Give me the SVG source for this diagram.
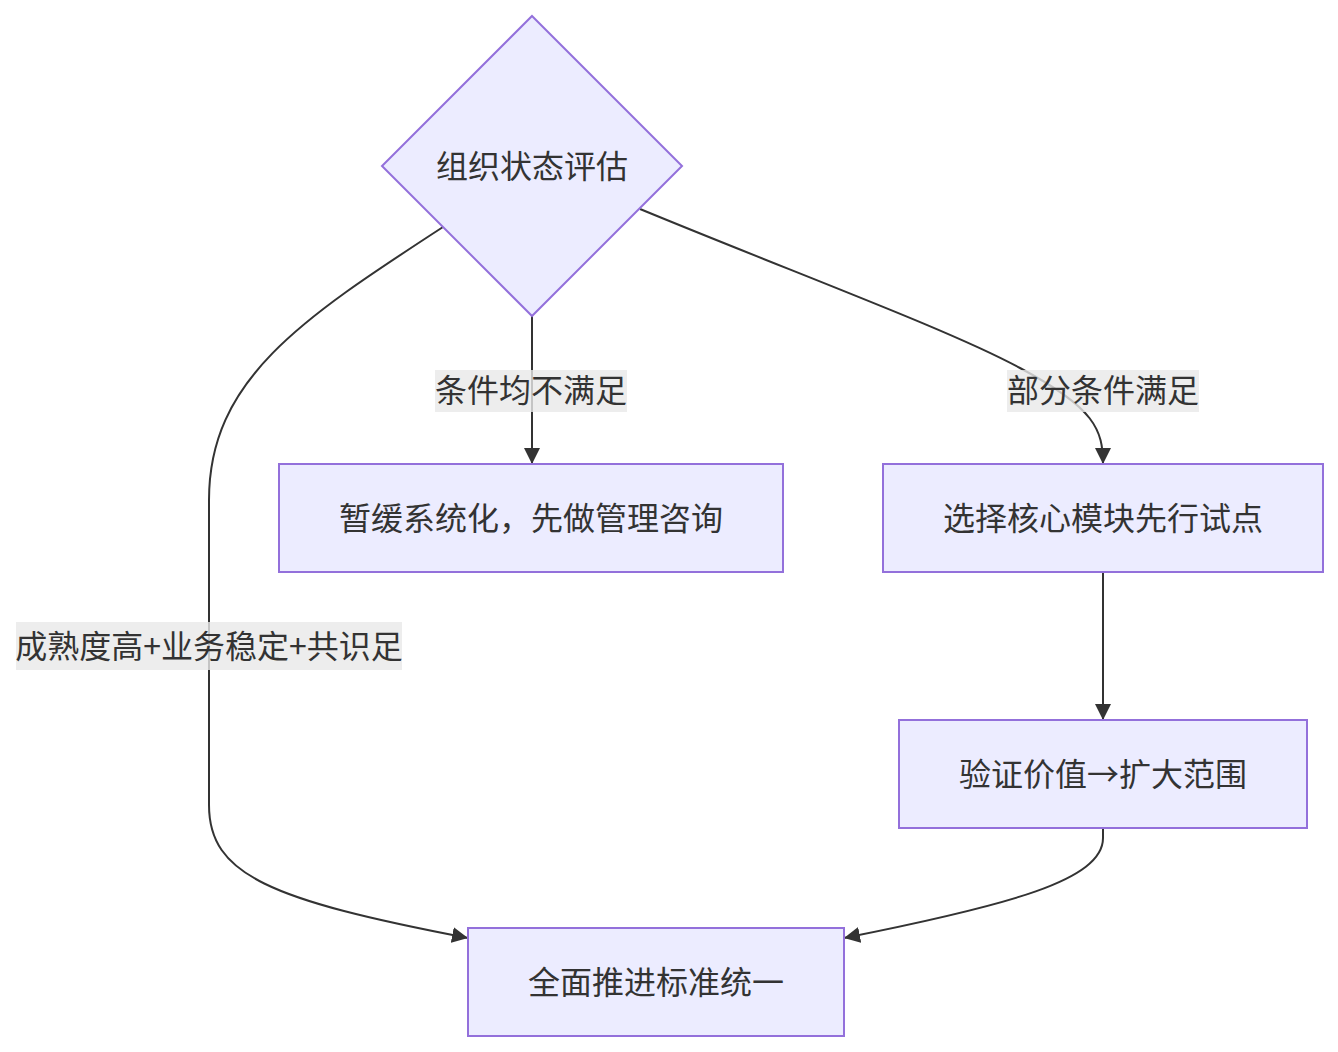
<svg xmlns="http://www.w3.org/2000/svg" width="1338" height="1052" viewBox="0 0 1338 1052">
<style>
.node{fill:#ECECFF;stroke:#9370DB;stroke-width:2}
.t{font-family:"Noto Sans CJK SC","Noto Sans",sans-serif;font-size:32px;fill:#333;text-anchor:middle;dominant-baseline:central}
.e{fill:none;stroke:#333;stroke-width:2}
.lb{fill:rgba(232,232,232,0.8)}
</style>
<defs>
<marker id="arr" viewBox="0 0 10 10" refX="10" refY="5" markerUnits="userSpaceOnUse" markerWidth="16" markerHeight="16" orient="auto">
<path d="M0,0 L10,5 L0,10 z" fill="#333"/>
</marker>
</defs>
<rect width="1338" height="1052" fill="#fff"/>
<g id="edges">
<path class="e" d="M532,316 L532,464" marker-end="url(#arr)"/>
<path class="e" d="M640,209 C800,275 950,330 1020,368 C1095,408 1103,430 1103,464" marker-end="url(#arr)"/>
<path class="e" d="M443,227 C300,320 209,380 209,500 L209,805 C209,875 270,900 468,938" marker-end="url(#arr)"/>
<path class="e" d="M1103,572 L1103,720" marker-end="url(#arr)"/>
<path class="e" d="M1103,828 L1103,838 C1103,880 1010,905 844,938" marker-end="url(#arr)"/>
</g>
<g id="edge-labels">
<g id="l1"><rect class="lb" x="435" y="370" width="192" height="42"/><text class="t" x="531" y="388">条件均不满足</text></g>
<g id="l2"><rect class="lb" x="1007" y="370" width="192" height="42"/><text class="t" x="1103" y="388">部分条件满足</text></g>
<g id="l3"><rect class="lb" x="16" y="622" width="386" height="48"/><text class="t" x="209" y="644">成熟度高+业务稳定+共识足</text></g>
</g>
<g id="n0"><polygon class="node" points="532,16 682,166 532,316 382,166"/><text class="t" x="532" y="164">组织状态评估</text></g>
<g id="n1"><rect class="node" x="279" y="464" width="504" height="108"/><text class="t" x="531" y="516">暂缓系统化，先做管理咨询</text></g>
<g id="n2"><rect class="node" x="883" y="464" width="440" height="108"/><text class="t" x="1103" y="516">选择核心模块先行试点</text></g>
<g id="n3"><rect class="node" x="899" y="720" width="408" height="108"/><text class="t" x="1103" y="772">验证价值→扩大范围</text></g>
<g id="n4"><rect class="node" x="468" y="928" width="376" height="108"/><text class="t" x="656" y="980">全面推进标准统一</text></g>
</svg>
